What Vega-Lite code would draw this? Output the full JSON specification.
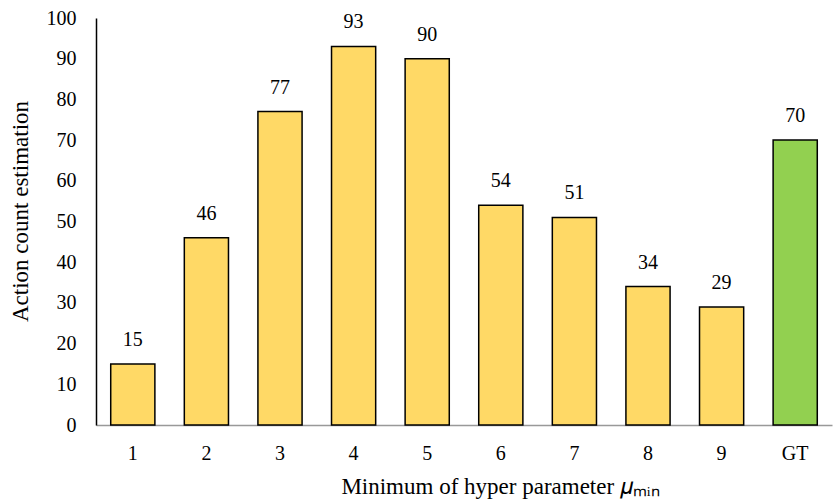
{
  "$schema": "https://vega.github.io/schema/vega-lite/v6.json",
  "autosize": "none",
  "width": 736,
  "height": 407,
  "padding": {"left": 96, "top": 18, "right": 3, "bottom": 75},
  "background": "white",
  "config": {
    "view": {"stroke": null},
    "font": "Liberation Serif",
    "axis": {"labelFont": "Liberation Serif", "titleFont": "Liberation Serif"},
    "text": {"font": "Liberation Serif"}
  },
  "data": {
    "values": [
      {"mu": "1", "count": 15, "kind": "est"},
      {"mu": "2", "count": 46, "kind": "est"},
      {"mu": "3", "count": 77, "kind": "est"},
      {"mu": "4", "count": 93, "kind": "est"},
      {"mu": "5", "count": 90, "kind": "est"},
      {"mu": "6", "count": 54, "kind": "est"},
      {"mu": "7", "count": 51, "kind": "est"},
      {"mu": "8", "count": 34, "kind": "est"},
      {"mu": "9", "count": 29, "kind": "est"},
      {"mu": "GT", "count": 70, "kind": "gt"}
    ]
  },
  "encoding": {
    "x": {
      "field": "mu",
      "type": "nominal",
      "sort": null,
      "scale": {"paddingInner": 0.4, "paddingOuter": 0.2},
      "axis": {
        "title": "Minimum of hyper parameter 𝜇ₘᵢₙ",
        "titleFont": "Liberation Serif",
        "titleFontSize": 23,
        "titleFontWeight": "normal",
        "titleColor": "black",
        "titleX": 404,
        "titleAlign": "center",
        "titlePadding": 12,
        "labelFont": "Liberation Serif",
        "labelAngle": 0,
        "labelFontSize": 20,
        "labelColor": "black",
        "labelPadding": 18,
        "ticks": false,
        "domainColor": "#999999",
        "domainWidth": 1.5
      }
    },
    "y": {
      "field": "count",
      "type": "quantitative",
      "scale": {"domain": [0, 100]},
      "axis": {
        "title": "Action count estimation",
        "titleFont": "Liberation Serif",
        "titleFontSize": 23,
        "titleFontWeight": "normal",
        "titleColor": "black",
        "titleY": 193,
        "titleAlign": "center",
        "titlePadding": 14,
        "values": [0, 10, 20, 30, 40, 50, 60, 70, 80, 90, 100],
        "labelFont": "Liberation Serif",
        "labelFontSize": 20,
        "labelColor": "black",
        "labelPadding": 20,
        "ticks": false,
        "grid": false,
        "domainColor": "black",
        "domainWidth": 1.5
      }
    }
  },
  "layer": [
    {
      "mark": {"type": "bar", "stroke": "black", "strokeWidth": 1.5},
      "encoding": {
        "color": {
          "field": "kind",
          "type": "nominal",
          "scale": {"domain": ["est", "gt"], "range": ["#FFD966", "#92D050"]},
          "legend": null
        }
      }
    },
    {
      "mark": {"type": "text", "baseline": "bottom", "dy": -14, "fontSize": 20, "font": "Liberation Serif", "color": "black"},
      "encoding": {"text": {"field": "count", "type": "quantitative"}}
    }
  ]
}
